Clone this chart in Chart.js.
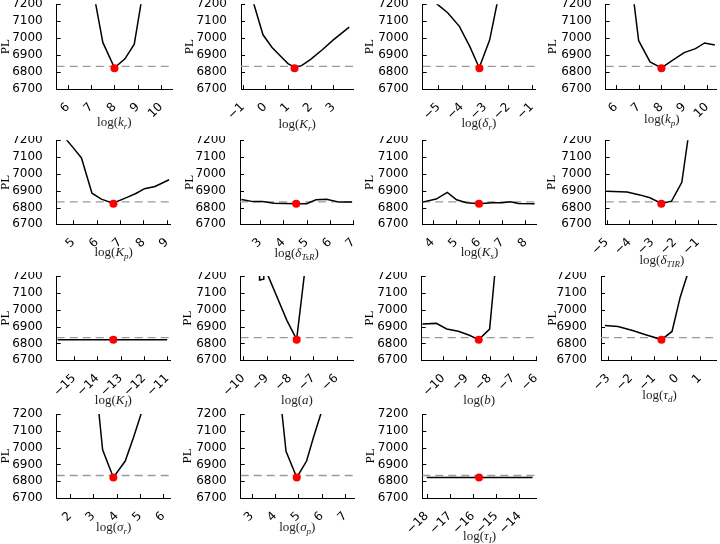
<!DOCTYPE html>
<html>
<head>
<meta charset="utf-8">
<script src="https://cdn.jsdelivr.net/npm/chart.js@4.4.0/dist/chart.umd.min.js"></script>
<style>
body { margin: 0; background: #fff; width: 720px; height: 544px; position: relative; overflow: hidden; }
canvas { position: absolute; }
.xt { position: absolute; font-family: "Liberation Serif", "DejaVu Serif", serif; font-size: 13px; color: #222;
      transform: translate(-50%, -50%); white-space: nowrap; line-height: 1; }
.xt sub { font-size: 9px; line-height: 0; }
</style>
</head>
<body>
<script>
// profile likelihood curves, one pair of arrays per parameter
const krX = [6.9, 7.5, 8.0, 8.45, 8.85, 9.4];
const krY = [7420, 6975, 6825, 6878, 6965, 7420];
const KrX = [-0.7, -0.1, 0.3, 0.7, 1.0, 1.3, 1.6, 2.0, 2.5, 3.0, 3.7];
const KrY = [7290, 7020, 6945, 6890, 6850, 6828, 6838, 6875, 6930, 6990, 7065];
const drX = [-5.3, -5.0, -4.6, -4.1, -3.65, -3.25, -2.8, -2.3];
const drY = [7230, 7195, 7150, 7070, 6950, 6825, 6990, 7330];
const kpX = [6.6, 7.0, 7.5, 8.0, 8.5, 9.0, 9.5, 9.9, 10.35];
const kpY = [7420, 6985, 6860, 6825, 6870, 6915, 6938, 6972, 6960];
const KpX = [4.55, 5.0, 5.35, 5.8, 6.2, 6.7, 7.3, 7.7, 8.05, 8.5, 9.1];
const KpY = [7230, 7155, 7095, 6885, 6850, 6825, 6860, 6885, 6912, 6925, 6965];
const dTsRX = [2.2, 2.7, 3.1, 3.6, 4.1, 4.55, 5.0, 5.4, 5.85, 6.4, 6.95];
const dTsRY = [6848, 6835, 6836, 6826, 6824, 6823, 6823, 6846, 6849, 6832, 6832];
const KsX = [3.55, 4.15, 4.63, 5.03, 5.46, 6.0, 6.57, 7.0, 7.35, 7.7, 8.4];
const KsY = [6832, 6850, 6890, 6846, 6828, 6823, 6828, 6828, 6834, 6824, 6823];
const dTIRX = [-5.0, -4.1, -3.55, -3.1, -2.6, -2.15, -1.7, -1.25];
const dTIRY = [6896, 6892, 6875, 6858, 6824, 6838, 6950, 7380];
const KIX = [-15.7, -15, -14, -13.31, -12, -11];
const KIY = [6822, 6822, 6822, 6822, 6822, 6822];
const aX = [-9.32, -9.3, -9.12, -9.08, -8.93, -8.13, -7.71, -7.3];
const aY = [7400, 7176, 7181, 7400, 7200, 6937, 6824, 7300];
const bX = [-10.9, -10.3, -9.85, -9.35, -8.9, -8.47, -8.0, -7.65];
const bY = [6915, 6919, 6886, 6872, 6850, 6823, 6885, 7400];
const tdX = [-3.14, -2.57, -1.93, -1.36, -0.67, -0.21, 0.15, 0.7];
const tdY = [6906, 6900, 6877, 6852, 6823, 6871, 7076, 7310];
const srX = [3.1, 3.4, 3.86, 4.37, 4.72, 5.4];
const srY = [7400, 6987, 6822, 6920, 7059, 7350];
const spX = [4.15, 4.47, 4.93, 5.35, 5.64, 6.3];
const spY = [7400, 6978, 6822, 6920, 7059, 7350];
const tIX = [-18.0, -17, -16, -15.74, -15, -14, -13.43];
const tIY = [6822, 6822, 6822, 6822, 6822, 6822, 6822];

const curvesX = [krX, KrX, drX, kpX, KpX, dTsRX, KsX, dTIRX, KIX, aX, bX, tdX, srX, spX, tIX];
const curvesY = [krY, KrY, drY, kpY, KpY, dTsRY, KsY, dTIRY, KIY, aY, bY, tdY, srY, spY, tIY];

// best estimates (red dots) and threshold (dashed line)
const bestX = [8.0, 1.29, -3.24, 8.0, 6.72, 4.55, 6.0, -2.6, -13.31, -7.71, -8.47, -0.67, 3.86, 4.93, -15.74];
const bestPL = 6822;
const threshold = 6834;

// axis ranges
const xMin = [5.52, -1.07, -5.67, 5.55, 4.29, 2.14, 3.55, -5.04, -15.74, -10.11, -10.93, -3.31, 1.43, 2.53, -18.19];
const xMax = [10.47, 3.88, -0.86, 10.4, 9.17, 7.0, 8.46, -0.2, -10.88, -5.28, -6.0, 1.71, 6.32, 7.38, -13.28];
const yMin = 6700, yMax = 7200, yStep = 100;

const titles = [
  'log(<i>k</i><sub><i>r</i></sub>)', 'log(<i>K</i><sub><i>r</i></sub>)', 'log(<i>δ</i><sub><i>r</i></sub>)', 'log(<i>k</i><sub><i>p</i></sub>)',
  'log(<i>K</i><sub><i>p</i></sub>)', 'log(<i>δ</i><sub><i>TsR</i></sub>)', 'log(<i>K</i><sub><i>s</i></sub>)', 'log(<i>δ</i><sub><i>TIR</i></sub>)',
  'log(<i>K</i><sub><i>I</i></sub>)', 'log(<i>a</i>)', 'log(<i>b</i>)', 'log(<i>τ</i><sub><i>d</i></sub>)',
  'log(<i>σ</i><sub><i>r</i></sub>)', 'log(<i>σ</i><sub><i>p</i></sub>)', 'log(<i>τ</i><sub><i>I</i></sub>)'
];

// layout: [axis x, plot right, PL centre, x title centre y] inside each 180x136 cell
const geo = [
  [56.7, 172, 5.3, 121], [61, 173.3, 10, 123], [62.7, 175, 10, 122], [65.7, 178, 12.7, 118],
  [56.7, 170.7, 4, 115], [60, 173.3, 9.3, 116], [62.3, 176.7, 9.3, 115], [65.7, 178, 11.7, 123],
  [56.7, 170, 4, 127], [60.7, 173.3, 7.5, 127], [61.7, 176.7, 9.7, 127], [61, 178, 13, 122],
  [56.7, 170.7, 4, 118], [60.7, 174, 8, 118], [62.3, 176.7, 11, 127]
];
const rowTop = [4.3, 4.3, 4, 6];
const rowBottom = [89, 88.3, 88.3, 90];

Chart.defaults.font.family = 'DejaVu Sans';
Chart.defaults.font.size = 12;
Chart.defaults.color = '#000';

const innerTicks = {
  id: 'innerTicks',
  afterDraw(chart) {
    const { ctx, chartArea: a, scales: { x, y } } = chart;
    ctx.save();
    ctx.strokeStyle = '#000';
    ctx.lineWidth = 1;
    ctx.beginPath();
    x.ticks.forEach(t => {
      const px = Math.round(x.getPixelForValue(t.value)) + 0.5;
      ctx.moveTo(px, a.bottom);
      ctx.lineTo(px, a.bottom - 4);
    });
    y.ticks.forEach(t => {
      const py = Math.round(y.getPixelForValue(t.value)) + 0.5;
      ctx.moveTo(a.left, py);
      ctx.lineTo(a.left + 4, py);
    });
    ctx.stroke();
    ctx.restore();
  }
};

const minus = v => String(v).replace('-', '\u2212');

for (let i = 0; i < 15; i++) {
  const row = Math.floor(i / 4), col = i % 4;
  const [axisX, right, plC, titleY] = geo[i];
  const padL = Math.max(plC - 5.2, 0);

  const cv = document.createElement('canvas');
  cv.width = 180; cv.height = 136;
  cv.style.left = (col * 180) + 'px';
  cv.style.top = (row * 136) + 'px';
  document.body.appendChild(cv);

  const t = document.createElement('div');
  t.className = 'xt';
  t.innerHTML = titles[i];
  t.style.left = (col * 180 + (axisX + right) / 2) + 'px';
  t.style.top = (row * 136 + titleY) + 'px';
  document.body.appendChild(t);

  const curve = curvesX[i].map((v, j) => ({ x: v, y: curvesY[i][j] }));

  new Chart(cv, {
    type: 'line',
    data: {
      datasets: [
        { data: [{ x: bestX[i], y: bestPL }], showLine: false, pointRadius: 4,
          pointBackgroundColor: '#f00', pointBorderWidth: 0 },
        { data: curve, borderColor: '#000', borderWidth: 1.5, pointRadius: 0, tension: 0 },
        { data: [{ x: xMin[i], y: threshold }, { x: xMax[i], y: threshold }],
          borderColor: '#9a9a9a', borderWidth: 1.3, borderDash: [8, 5], pointRadius: 0 }
      ]
    },
    options: {
      responsive: false,
      animation: false,
      devicePixelRatio: 1,
      layout: { padding: { left: padL, right: 180 - right, top: rowTop[row], bottom: 0 } },
      plugins: { legend: { display: false }, tooltip: { enabled: false } },
      scales: {
        x: {
          type: 'linear', min: xMin[i], max: xMax[i],
          grid: { display: false },
          border: { display: true, color: '#000', width: 1 },
          ticks: { stepSize: 1, includeBounds: false, autoSkip: false, minRotation: 45, maxRotation: 45,
                   padding: 3, callback: minus },
          afterFit: s => { s.height = 136 - rowBottom[row]; s.paddingLeft = 0; s.paddingRight = 0; }
        },
        y: {
          min: yMin, max: yMax,
          grid: { display: false },
          border: { display: true, color: '#000', width: 1 },
          ticks: { stepSize: yStep, autoSkip: false, padding: 6, callback: v => String(v) },
          title: { display: true, text: 'PL', padding: 0,
                   font: { family: 'Liberation Serif', size: 13, lineHeight: 0.8 } },
          afterFit: s => { s.width = axisX - padL; s.paddingTop = 0; s.paddingBottom = 0; }
        }
      }
    },
    plugins: [innerTicks]
  });
}
</script>
</body>
</html>
